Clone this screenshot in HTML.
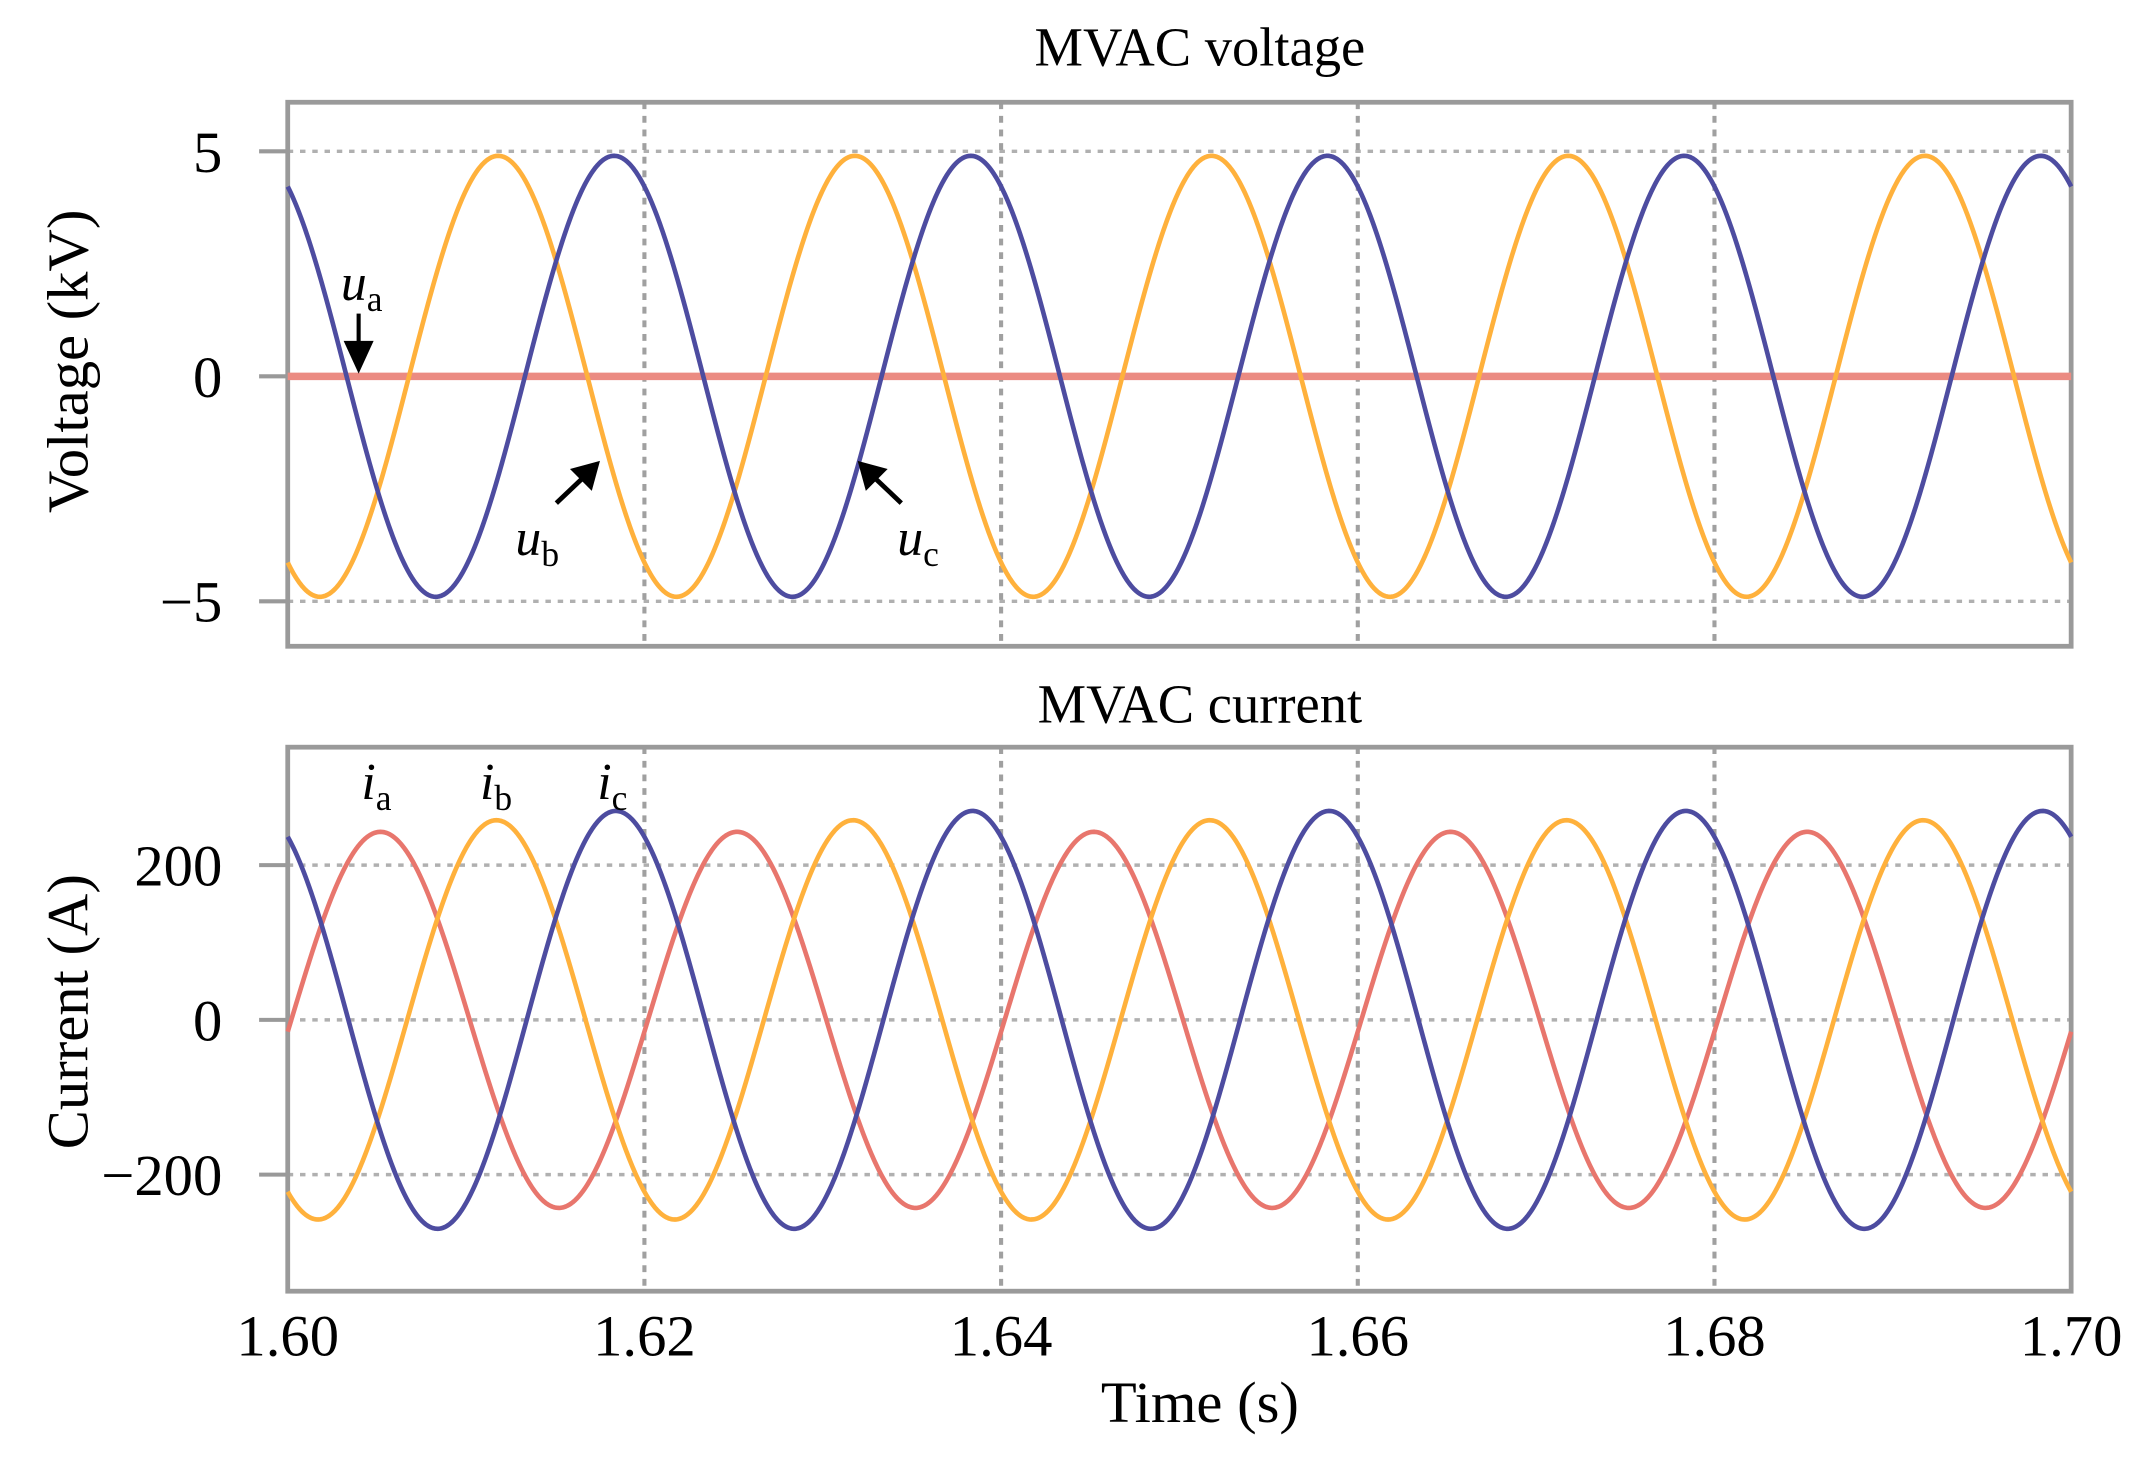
<!DOCTYPE html>
<html><head><meta charset="utf-8"><style>
html,body{margin:0;padding:0;background:#fff;}
svg{display:block;}
text{font-family:"Liberation Serif",serif;fill:#000;}
</style></head>
<body>
<svg id="chart" width="2138" height="1463" viewBox="0 0 1568 1073" xmlns="http://www.w3.org/2000/svg">
<g id="topPanel"></g>
<g id="botPanel"></g>
<text x="880" y="48" font-size="40" text-anchor="middle">MVAC voltage</text>
<text x="880" y="530" font-size="40" text-anchor="middle">MVAC current</text>
<text transform="translate(64,265) rotate(-90)" font-size="43" text-anchor="middle">Voltage (kV)</text>
<text transform="translate(64,742) rotate(-90)" font-size="43" text-anchor="middle">Current (A)</text>
<text x="880" y="1043" font-size="43" text-anchor="middle">Time (s)</text>
<text x="250" y="220" font-size="38" font-style="italic">u<tspan font-size="26" font-style="normal" dy="8">a</tspan></text>
<line x1="263" y1="230" x2="263" y2="258" stroke="#000" stroke-width="3"/>
<polygon points="252,250 274,250 263,274" fill="#000"/>
<text x="378" y="407" font-size="38" font-style="italic">u<tspan font-size="26" font-style="normal" dy="8">b</tspan></text>
<line x1="408" y1="369" x2="428" y2="350" stroke="#000" stroke-width="3.5"/>
<polygon points="440,338 418,344 434,360" fill="#000"/>
<text x="658" y="407" font-size="38" font-style="italic">u<tspan font-size="26" font-style="normal" dy="8">c</tspan></text>
<line x1="661" y1="369" x2="641" y2="350" stroke="#000" stroke-width="3.5"/>
<polygon points="629,338 651,344 635,360" fill="#000"/>
<text x="265" y="586" font-size="38" font-style="italic">i<tspan font-size="26" font-style="normal" dy="8">a</tspan></text>
<text x="352" y="586" font-size="38" font-style="italic">i<tspan font-size="26" font-style="normal" dy="8">b</tspan></text>
<text x="438" y="586" font-size="38" font-style="italic">i<tspan font-size="26" font-style="normal" dy="8">c</tspan></text>
</svg>
<script>
const xTicks = [1.60, 1.62, 1.64, 1.66, 1.68, 1.70];
const xTickLabels = ["1.60", "1.62", "1.64", "1.66", "1.68", "1.70"];
const vTicks = [5, 0, -5];
const vTickLabels = ["5", "0", "\u22125"];
const iTicks = [200, 0, -200];
const iTickLabels = ["200", "0", "\u2212200"];
const freqHz = 50;
const voltNames = ["ua", "ub", "uc"];
const voltAmp = [0, 4.9, 4.9];
const voltPeakT = [1.6, 1.6118, 1.6183];
const curNames = ["ia", "ib", "ic"];
const curAmp = [243, 258, 270];
const curPeakT = [1.6052, 1.6117, 1.6184];
const colors = ["#e8766d", "#ffb13c", "#4d4ca0"];

const X0 = 211, X1 = 1519;
const xs = t => X0 + (t - 1.60) / 0.10 * (X1 - X0);
const yV = v => 276 - v * 33.0;
const yI = a => 748 - a * 0.5675;
const NS = "http://www.w3.org/2000/svg";
function mk(tag, attrs, parent) {
  const e = document.createElementNS(NS, tag);
  for (const k in attrs) e.setAttribute(k, attrs[k]);
  parent.appendChild(e);
  return e;
}
function panel(g, y0, y1, ticks, labels, yf, nm) {
  for (let i = 0; i < ticks.length; i++) {
    const y = yf(ticks[i]);
    const gl = mk("line", {x1: X0, x2: X1, y1: y, y2: y, stroke: "#b0b0b0", "stroke-width": 2.5, "stroke-dasharray": "4 5"}, g);
    
    
    const tk = mk("line", {x1: 190, x2: X0, y1: y, y2: y, stroke: "#999", "stroke-width": 3}, g);
    
    
    const tl = mk("text", {x: 163, y: y + 15, "font-size": 43, "text-anchor": "end"}, g);
    tl.textContent = labels[i];
    
    
  }
  for (let i = 1; i < xTicks.length - 1; i++) {
    const x = xs(xTicks[i]);
    const vl = mk("line", {x1: x, x2: x, y1: y0, y2: y1, stroke: "#a0a0a0", "stroke-width": 3, "stroke-dasharray": "5 5"}, g);
    
    
  }
  const fr = mk("rect", {x: X0, y: y0, width: X1 - X0, height: y1 - y0, fill: "none", stroke: "#9a9a9a", "stroke-width": 3.5}, g);
  
  
}
function wave(g, amp, peak, yf, color, nm, w) {
  let d = "";
  for (let px = X0; px <= X1; px += 1) {
    const t = 1.60 + (px - X0) / (X1 - X0) * 0.10;
    const v = amp * Math.cos(2 * Math.PI * freqHz * (t - peak));
    d += (px === X0 ? "M" : "L") + px + "," + yf(v).toFixed(2);
  }
  const p = mk("path", {d: d, fill: "none", stroke: color, "stroke-width": w, "stroke-linejoin": "round"}, g);
  
  
}
const topG = document.getElementById("topPanel"), botG = document.getElementById("botPanel");
panel(topG, 75, 474, vTicks, vTickLabels, yV, "voltage");
panel(botG, 548, 947, iTicks, iTickLabels, yI, "current");
wave(topG, voltAmp[0], voltPeakT[0], yV, "#eb8b82", "series-" + voltNames[0], 5.5);
wave(topG, voltAmp[1], voltPeakT[1], yV, colors[1], "series-" + voltNames[1], 3.4);
wave(topG, voltAmp[2], voltPeakT[2], yV, colors[2], "series-" + voltNames[2], 3.4);
for (let i = 0; i < 3; i++) wave(botG, curAmp[i], curPeakT[i], yI, colors[i], "series-" + curNames[i], 3.4);
const chartEl = document.getElementById("chart");
for (let i = 0; i < xTicks.length; i++) {
  const t = mk("text", {x: xs(xTicks[i]), y: 994, "font-size": 43, "text-anchor": "middle"}, chartEl);
  t.textContent = xTickLabels[i];
  
  
}
</script>
</body></html>
